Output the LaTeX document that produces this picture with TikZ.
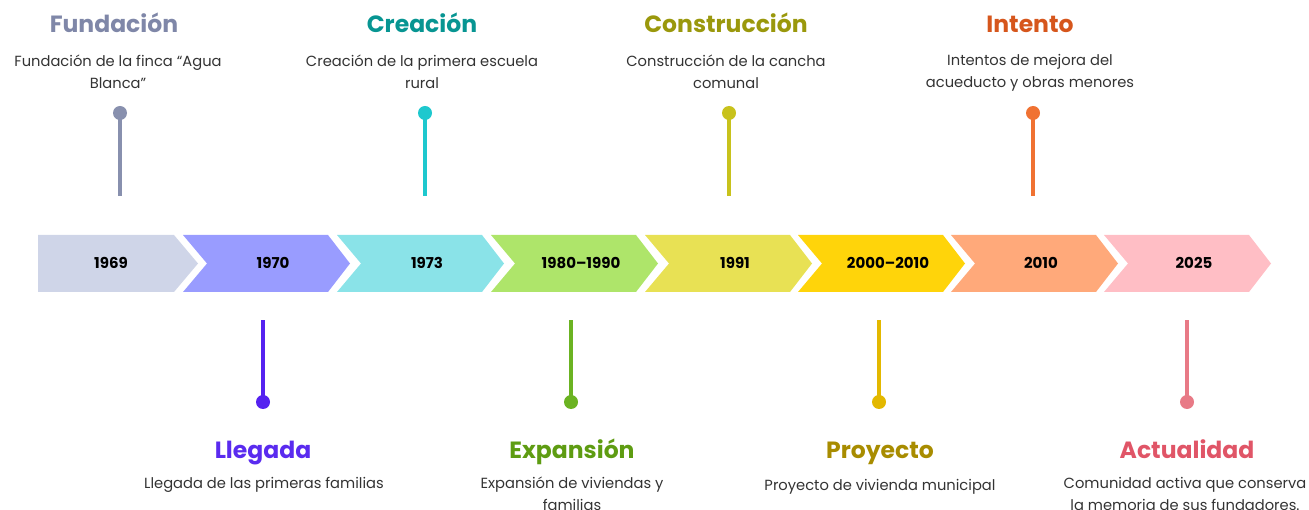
\documentclass[tikz,border=0pt]{standalone}
\usepackage{fontspec}
\setmainfont{Poppins}
\usetikzlibrary{positioning}
% chevron fills
\definecolor{chevA}{HTML}{CFD5E8}
\definecolor{chevB}{HTML}{999CFF}
\definecolor{chevC}{HTML}{8AE3E8}
\definecolor{chevD}{HTML}{AEE56A}
\definecolor{chevE}{HTML}{E8E154}
\definecolor{chevF}{HTML}{FFD40A}
\definecolor{chevG}{HTML}{FFA97A}
\definecolor{chevH}{HTML}{FFBEC5}
% titles
\definecolor{tFund}{HTML}{7F87A8}
\definecolor{tCrea}{HTML}{079592}
\definecolor{tCons}{HTML}{9A980C}
\definecolor{tInte}{HTML}{D6561C}
\definecolor{tLleg}{HTML}{5A2BEF}
\definecolor{tExpa}{HTML}{5E9C12}
\definecolor{tProy}{HTML}{A88C00}
\definecolor{tActu}{HTML}{E05567}
% pins
\definecolor{pFund}{HTML}{8890AE}
\definecolor{pCrea}{HTML}{1EC8CE}
\definecolor{pCons}{HTML}{C8C21C}
\definecolor{pInte}{HTML}{F07232}
\definecolor{pLleg}{HTML}{5522F0}
\definecolor{pExpa}{HTML}{6BB322}
\definecolor{pProy}{HTML}{E3B800}
\definecolor{pActu}{HTML}{E87A86}
\definecolor{descgray}{HTML}{333333}

\begin{document}
\begin{tikzpicture}[x=1pt, y=-1pt,
    year/.style={font=\fontsize{15}{17}\selectfont\bfseries, text=black, anchor=base},
    headline/.style={font=\fontsize{23.5}{26}\selectfont\bfseries, anchor=base},
    desc/.style={font=\fontsize{14.7}{22}\selectfont, text=descgray, align=center, anchor=north, inner sep=0pt},
    pinhead/.style={circle, minimum size=14pt, inner sep=0pt},
    pinline/.style={line width=4pt}]
    \useasboundingbox (0,0) rectangle (1309,510);

    % first chevron has a flat back
    \fill[chevA] (38,235) -- (174,235) -- (198,263.5) -- (174,292) -- (38,292) -- cycle;
    \node[year] (yr0) at (111,269) {1969};

    % remaining chevrons
    \foreach \l/\c/\yr [count=\i] in {183/chevB/1970, 337/chevC/1973, 491/chevD/1980--1990,
        645/chevE/1991, 798/chevF/2000--2010, 951/chevG/2010, 1104/chevH/2025} {
        \fill[\c] (\l,235) -- ++(145,0) -- ++(22,28.5) -- ++(-22,28.5) -- ++(-145,0) -- ++(24,-28.5) -- cycle;
        \node[year] (yr\i) at (\l+90,269) {\yr};
    }

    % pins above the arrows
    \foreach \x/\n in {120/Fund, 425/Crea, 729/Cons, 1033/Inte} {
        \node[pinhead, fill=p\n] (pin\n) at (\x,113) {};
        \coordinate (end\n) at (\x,196);
        \draw[pinline, p\n] (pin\n.center) -- (end\n);
    }

    % pins below the arrows
    \foreach \x/\n in {263/Lleg, 571/Expa, 879/Proy, 1187/Actu} {
        \node[pinhead, fill=p\n] (pin\n) at (\x,402) {};
        \coordinate (end\n) at (\x,320);
        \draw[pinline, p\n] (pin\n.center) -- (end\n);
    }

    % upper labels
    \node[headline, text=tFund] (hFund) at (114,33) {Fundación};
    \node[desc] (dFund) at (118,54.5) {Fundación de la finca “Agua\\Blanca”};
    \node[headline, text=tCrea] (hCrea) at (422,33) {Creación};
    \node[desc] (dCrea) at (422,54.5) {Creación de la primera escuela\\rural};
    \node[headline, text=tCons] (hCons) at (726,33) {Construcción};
    \node[desc] (dCons) at (726,54.5) {Construcción de la cancha\\comunal};
    \node[headline, text=tInte] (hInte) at (1030,33) {Intento};
    \node[desc] (dInte) at (1030,54.5) {Intentos de mejora del\\acueducto y obras menores};

    % lower labels
    \node[headline, text=tLleg] (hLleg) at (263,458) {Llegada};
    \node[desc] (dLleg) at (264,477) {Llegada de las primeras familias};
    \node[headline, text=tExpa] (hExpa) at (572,458) {Expansión};
    \node[desc] (dExpa) at (572,477) {Expansión de viviendas y\\familias};
    \node[headline, text=tProy] (hProy) at (880,458) {Proyecto};
    \node[desc] (dProy) at (880,479.5) {Proyecto de vivienda municipal};
    \node[headline, text=tActu] (hActu) at (1187,458) {Actualidad};
    \node[desc] (dActu) at (1185,477) {Comunidad activa que conserva\\la memoria de sus fundadores.};
\end{tikzpicture}
\end{document}
